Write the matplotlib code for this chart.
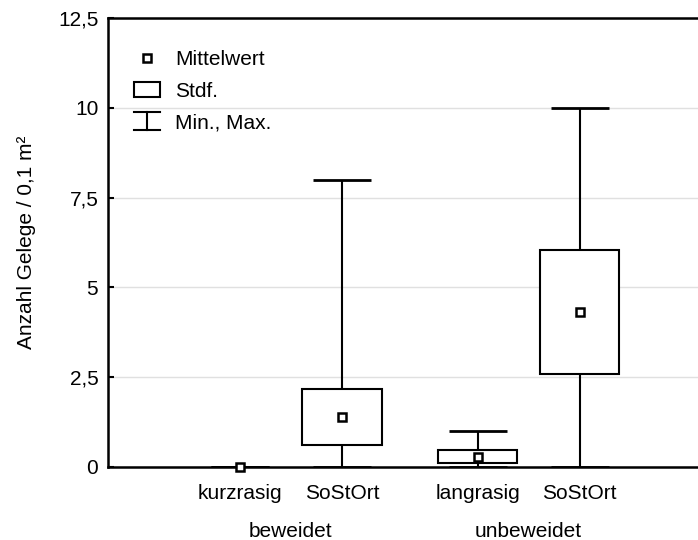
import matplotlib
matplotlib.use("Agg")
from matplotlib import pyplot as plt
from matplotlib.lines import Line2D
from matplotlib.patches import Rectangle
from matplotlib.legend_handler import HandlerBase
from matplotlib.transforms import blended_transform_factory

plt.rcParams['font.family'] = ['Liberation Sans', 'DejaVu Sans']
plt.rcParams['font.size'] = 15

categories = ['kurzrasig', 'SoStOrt', 'langrasig', 'SoStOrt']
groups = ['beweidet', 'unbeweidet']
group_members = [[0, 1], [2, 3]]
means = [0.0, 1.4, 0.28, 4.32]
sds = [0.0, 0.78, 0.18, 1.72]
mins = [0.0, 0.0, 0.0, 0.0]
maxs = [0.0, 8.0, 1.0, 10.0]
yticks = [0, 2.5, 5, 7.5, 10, 12.5]
ytick_labels = ['0', '2,5', '5', '7,5', '10', '12,5']

positions = [1, 2, 3.33, 4.33]
box_w = 0.78
cap_w = 0.57


class HandlerMinMax(HandlerBase):
    def create_artists(self, legend, orig_handle, xdescent, ydescent,
                       width, height, fontsize, trans):
        x0, x1 = -xdescent, -xdescent + width
        xm = (x0 + x1) / 2
        y0 = -ydescent - 1
        y1 = -ydescent + height + 1
        kw = dict(color='black', lw=1.5, transform=trans)
        return [Line2D([x0, x1], [y0, y0], **kw),
                Line2D([x0, x1], [y1, y1], **kw),
                Line2D([xm, xm], [y0, y1], **kw)]


fig = plt.figure(figsize=(6.98, 5.4), dpi=100)
ax = fig.add_axes([108 / 698, 1 - 467 / 540, 1 - 108 / 698, (467 - 18) / 540])

for i, pos in enumerate(positions):
    lo, hi = means[i] - sds[i], means[i] + sds[i]
    # whisker from min to max, box and mean drawn over it
    ax.vlines(pos, mins[i], maxs[i], color='black', lw=1.5, zorder=3)
    ax.hlines([mins[i], maxs[i]], pos - cap_w / 2, pos + cap_w / 2,
              color='black', lw=2, zorder=3)
    if hi > lo:
        ax.add_patch(Rectangle((pos - box_w / 2, lo), box_w, hi - lo,
                               facecolor='white', edgecolor='black',
                               lw=1.5, zorder=4))
    ax.plot(pos, means[i], marker='s', ms=5.5, mew=1.8, mec='black',
            mfc='white', ls='none', zorder=5, clip_on=False)

ax.set_xlim(-0.294, 5.49)
ax.set_ylim(0, 12.5)
ax.set_yticks(yticks)
ax.set_yticklabels(ytick_labels)
ax.set_xticks(positions)
ax.set_xticklabels(categories)
ax.tick_params(axis='x', length=0, pad=12)
ax.tick_params(axis='y', direction='in', length=4, width=1.5, pad=7)
ax.yaxis.grid(True, color='#e0e0e0', lw=1)
ax.set_axisbelow(True)

for side in ['left', 'top', 'bottom']:
    ax.spines[side].set_linewidth(1.8)
ax.spines['right'].set_visible(False)

ax.set_ylabel('Anzahl Gelege / 0,1 m²')
ax.yaxis.set_label_coords(-0.122, 0.5)

trans = blended_transform_factory(ax.transData, fig.transFigure)
for name, members in zip(groups, group_members):
    xc = sum(positions[m] for m in members) / len(members)
    fig.text(xc, 1 - 537 / 540, name, transform=trans,
             ha='center', va='baseline')

h_mean = Line2D([], [], marker='s', ms=5.5, mew=1.8, mec='black',
                mfc='white', ls='none')
h_sd = Rectangle((0, 0), 1, 1, facecolor='white', edgecolor='black', lw=1.5)
h_mm = object()
ax.legend([h_mean, h_sd, h_mm], ['Mittelwert', 'Stdf.', 'Min., Max.'],
          handler_map={object: HandlerMinMax()},
          loc='upper left', bbox_to_anchor=(0.044, 0.928),
          frameon=False, borderaxespad=0, borderpad=0,
          handlelength=1.25, handletextpad=0.72, labelspacing=0.6)

fig.savefig('out.png', dpi=100)
